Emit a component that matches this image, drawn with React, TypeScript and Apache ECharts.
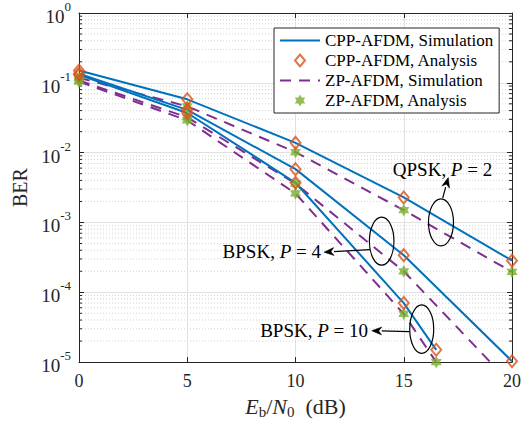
import React, { useEffect, useRef } from "react";
import * as echarts from "echarts";

// ---- data ----
const snr = [0, 5, 10, 15, 20];
const snrShort = [0, 5, 10, 15, 16.5];
const xTicks = [0, 5, 10, 15, 20];

const qpskP2Cpp = [0.15, 0.058, 0.0138, 0.00228, 2.84e-4];
const qpskP2Zp = [0.118, 0.046, 0.0102, 0.0015, 1.96e-4];
const bpskP4Cpp = [0.135, 0.041, 0.0058, 3.4e-4, 1.03e-5];
const bpskP4Zp = [0.108, 0.032, 0.0036, 2.0e-4, 4.7e-6];
const bpskP10Cpp = [0.13, 0.037, 0.0037, 7.0e-5, 1.5e-5];
const bpskP10Zp = [0.104, 0.029, 0.0026, 4.9e-5, 1.0e-5];

const legendNames = [
  "CPP-AFDM, Simulation",
  "CPP-AFDM, Analysis",
  "ZP-AFDM, Simulation",
  "ZP-AFDM, Analysis",
];

const annotations = [
  { label: ["QPSK, ", "P", " = 2"], anchor: [16.72, 1.0e-3], rx: 12.5, ry: 23.5, a0: [1.7, -24.3], a1: [7.3, -45], t: [1.5, -53.3], align: "center" },
  { label: ["BPSK, ", "P", " = 4"], anchor: [13.98, 5.4e-4], rx: 12.3, ry: 24, a0: [-11.7, 8.4], a1: [-57.7, 11], t: [-60.7, 10.7], align: "right" },
  { label: ["BPSK, ", "P", " = 10"], anchor: [15.83, 2.97e-5], rx: 12, ry: 24.3, a0: [-12.4, 2.6], a1: [-50, 1.6], t: [-53.7, 1.3], align: "right" },
];

const FONT = "Liberation Serif";
const AX = "#262626";
const BLUE = "#0072BD";
const ORANGE = "#D95319";
const PURPLE = "#7E2F8E";
const GREEN = "#77AC30";

function hexagramPath() {
  const pts: string[] = [];
  for (let k = 0; k < 12; k++) {
    const a = ((-90 + k * 30) * Math.PI) / 180;
    const r = k % 2 === 0 ? 50 : 28.87;
    const x = 50 + r * Math.cos(a);
    const y = 50 + r * Math.sin(a);
    pts.push((k === 0 ? "M" : "L") + x.toFixed(2) + " " + y.toFixed(2));
  }
  return "path://" + pts.join(" ") + " Z";
}
const DIAMOND = "path://M5 0 L10 6 L5 12 L0 6 Z";

const zip = (xs: number[], ys: number[]) => xs.map((x, i) => [x, ys[i]]);

export default function App() {
  const ref = useRef<HTMLDivElement>(null);
  useEffect(() => {
    if (!ref.current) return;
    document.body.style.margin = "0";
    const chart = echarts.init(ref.current, null, { renderer: "svg" });
    const hex = hexagramPath();

    const simLine = (name: string, xs: number[], ys: number[], color: string, dashed: boolean) => ({
      type: "line",
      name,
      data: zip(xs, ys),
      symbol: "none",
      lineStyle: { color, width: 2, type: dashed ? [11, 8] : "solid" },
      itemStyle: { color, opacity: 0 },
      z: dashed ? 3 : 4,
    });
    const cppMark = (xs: number[], ys: number[]) => ({
      type: "scatter",
      name: legendNames[1],
      data: zip(xs, ys),
      symbol: DIAMOND,
      symbolSize: [10, 12],
      itemStyle: { color: "rgba(255,255,255,0)", borderColor: ORANGE, borderWidth: 2 },
      z: 6,
    });
    const zpMark = (xs: number[], ys: number[]) => ({
      type: "scatter",
      name: legendNames[3],
      data: zip(xs, ys),
      symbol: hex,
      symbolSize: [11, 12.5],
      itemStyle: { color: GREEN },
      z: 5,
    });

    const tickLabel = { fontFamily: FONT, fontSize: 18, color: AX };

    chart.setOption({
      animation: false,
      backgroundColor: "#fff",
      textStyle: { fontFamily: FONT },
      grid: { left: 79, right: 14, top: 13, bottom: 59 },
      legend: {
        data: [
          { name: legendNames[0], itemStyle: { opacity: 0 } },
          { name: legendNames[1] },
          { name: legendNames[2], itemStyle: { opacity: 0 } },
          { name: legendNames[3] },
        ],
        orient: "vertical",
        left: 274,
        top: 28,
        padding: [4, 6, 4, 5],
        itemGap: 3,
        itemWidth: 40,
        itemHeight: 12,
        symbolKeepAspect: true,
        backgroundColor: "#fff",
        borderColor: AX,
        borderWidth: 1,
        textStyle: { fontFamily: FONT, fontSize: 17, color: "#000" },
      },
      xAxis: [
        {
          type: "value",
          min: 0,
          max: 20,
          interval: 5,
          name: "{i|E}{s|b}{n|/}{i|N}{s|0}{n|  (dB)}",
          nameLocation: "middle",
          nameGap: 30,
          nameTextStyle: {
            rich: {
              i: { fontFamily: FONT, fontSize: 22, fontStyle: "italic", color: AX, lineHeight: 26, verticalAlign: "middle" },
              s: { fontFamily: FONT, fontSize: 15, color: AX, lineHeight: 26, verticalAlign: "bottom" },
              n: { fontFamily: FONT, fontSize: 22, color: AX, lineHeight: 26, verticalAlign: "middle" },
            },
          },
          axisLine: { show: true, onZero: false, lineStyle: { color: AX, width: 1 } },
          axisTick: { show: true, inside: true, length: 5, lineStyle: { color: AX } },
          axisLabel: { ...tickLabel, margin: 10, formatter: (v: number) => (xTicks.includes(v) ? String(v) : "") },
          splitLine: { show: true, lineStyle: { color: "#e1e1e1", width: 1 } },
        },
        {
          type: "value",
          position: "top",
          min: 0,
          max: 20,
          interval: 5,
          axisLine: { show: true, onZero: false, lineStyle: { color: AX, width: 1 } },
          axisTick: { show: true, inside: true, length: 5, lineStyle: { color: AX } },
          axisLabel: { show: false },
          splitLine: { show: false },
        },
      ],
      yAxis: [
        {
          type: "log",
          logBase: 10,
          min: 1e-5,
          max: 1,
          name: "BER",
          nameLocation: "middle",
          nameGap: 33,
          nameTextStyle: { fontFamily: FONT, fontSize: 20, color: AX },
          axisLine: { show: true, onZero: false, lineStyle: { color: AX, width: 1 } },
          axisTick: { show: true, inside: true, length: 5, lineStyle: { color: AX } },
          splitLine: { show: true, lineStyle: { color: "#e1e1e1", width: 1 } },
          axisLabel: {
            margin: 8,
            formatter: (v: number) => `{b|10}{s|${Math.round(Math.log10(v))}}`,
            rich: {
              b: { fontFamily: FONT, fontSize: 19, color: AX, lineHeight: 26, verticalAlign: "bottom" },
              s: { fontFamily: FONT, fontSize: 13, color: AX, lineHeight: 26, verticalAlign: "top" },
            },
          },
        },
        {
          type: "log",
          logBase: 10,
          min: 1e-5,
          max: 1,
          position: "right",
          axisLine: { show: true, onZero: false, lineStyle: { color: AX, width: 1 } },
          axisTick: { show: true, inside: true, length: 5, lineStyle: { color: AX } },
          axisLabel: { show: false },
          splitLine: { show: false },
        },
      ],
      series: [
        simLine(legendNames[0], snr, qpskP2Cpp, BLUE, false),
        simLine(legendNames[0], snr, bpskP4Cpp, BLUE, false),
        simLine(legendNames[0], snrShort, bpskP10Cpp, BLUE, false),
        cppMark(snr, qpskP2Cpp),
        cppMark(snr, bpskP4Cpp),
        cppMark(snrShort, bpskP10Cpp),
        simLine(legendNames[2], snr, qpskP2Zp, PURPLE, true),
        simLine(legendNames[2], snr, bpskP4Zp, PURPLE, true),
        simLine(legendNames[2], snrShort, bpskP10Zp, PURPLE, true),
        zpMark(snr, qpskP2Zp),
        zpMark(snr, bpskP4Zp),
        zpMark(snrShort, bpskP10Zp),
      ],
    });

    // minor grid + minor ticks, and annotations
    const px = (x: number) => chart.convertToPixel({ xAxisIndex: 0 }, x) as number;
    const py = (y: number) => chart.convertToPixel({ yAxisIndex: 0 }, y) as number;
    const x0 = px(0);
    const x1 = px(20);
    const graphics: any[] = [];
    for (let d = -5; d < 0; d++) {
      for (let m = 2; m <= 9; m++) {
        const y = py(m * Math.pow(10, d));
        graphics.push({
          type: "line",
          silent: true,
          z: 0,
          shape: { x1: x0, y1: y, x2: x1, y2: y },
          style: { stroke: "#d4d4d4", lineWidth: 1, lineDash: [1, 2] },
        });
        graphics.push({ type: "line", silent: true, z: 1, shape: { x1: x0, y1: y, x2: x0 + 3, y2: y }, style: { stroke: AX, lineWidth: 1 } });
        graphics.push({ type: "line", silent: true, z: 1, shape: { x1: x1 - 3, y1: y, x2: x1, y2: y }, style: { stroke: AX, lineWidth: 1 } });
      }
    }
    annotations.forEach((a) => {
      const cx = px(a.anchor[0]);
      const cy = py(a.anchor[1]);
      graphics.push({
        type: "ellipse",
        z: 20,
        silent: true,
        shape: { cx, cy, rx: a.rx, ry: a.ry },
        style: { fill: "none", stroke: "#000", lineWidth: 1.2 },
      });
      const sx = cx + a.a0[0], sy = cy + a.a0[1];
      const ex = cx + a.a1[0], ey = cy + a.a1[1];
      const ang = Math.atan2(ey - sy, ex - sx);
      const hl = 10, hw = 4;
      const bx = ex - hl * Math.cos(ang), by = ey - hl * Math.sin(ang);
      graphics.push({
        type: "line",
        z: 20,
        silent: true,
        shape: { x1: sx, y1: sy, x2: bx, y2: by },
        style: { stroke: "#000", lineWidth: 1.2 },
      });
      graphics.push({
        type: "polygon",
        z: 20,
        silent: true,
        shape: {
          points: [
            [ex, ey],
            [bx + hw * Math.sin(ang), by - hw * Math.cos(ang)],
            [bx + 0.3 * hl * Math.cos(ang), by + 0.3 * hl * Math.sin(ang)],
            [bx - hw * Math.sin(ang), by + hw * Math.cos(ang)],
          ],
        },
        style: { fill: "#000", stroke: "#000", lineWidth: 0.5 },
      });
      graphics.push({
        type: "text",
        z: 20,
        silent: true,
        x: cx + a.t[0],
        y: cy + a.t[1],
        style: {
          text: `{r|${a.label[0]}}{i|${a.label[1]}}{r|${a.label[2]}}`,
          align: a.align,
          verticalAlign: "middle",
          rich: {
            r: { fontFamily: FONT, fontSize: 19, fill: "#000" },
            i: { fontFamily: FONT, fontSize: 19, fontStyle: "italic", fill: "#000" },
          },
        },
      });
    });
    chart.setOption({ graphic: graphics });

    return () => chart.dispose();
  }, []);

  return <div ref={ref} style={{ width: 526, height: 424 }} />;
}
